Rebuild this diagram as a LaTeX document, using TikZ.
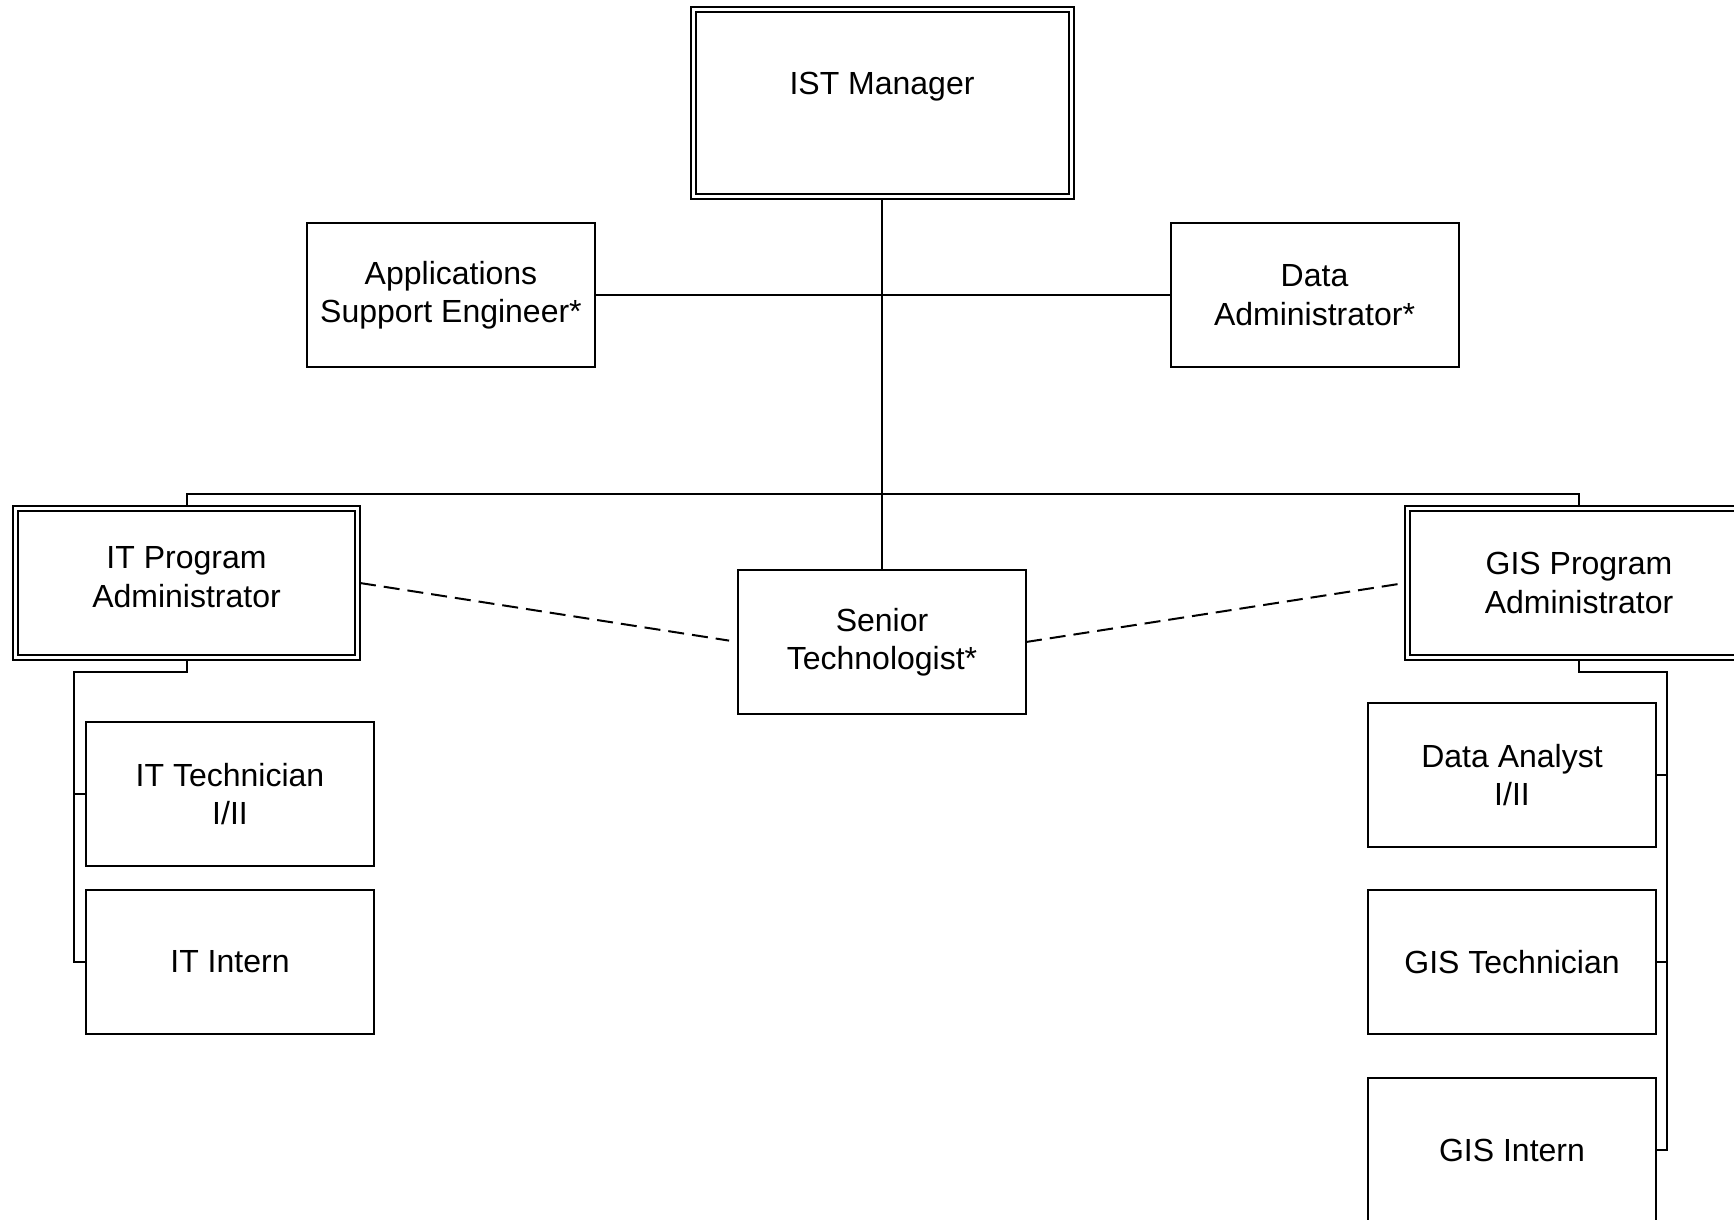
\documentclass[tikz,border=0pt]{standalone}
\usepackage{fontspec}
\setmainfont{Liberation Sans}
\begin{document}
\begin{tikzpicture}[x=1pt,y=-1pt,
  every node/.style={font=\fontsize{32}{38.5}\selectfont, align=center},
  box/.style={draw, line width=2pt, fill=white, minimum width=288pt, minimum height=144pt, inner sep=0pt, outer sep=0pt},
  dbox/.style={draw, line width=2pt, double, double distance=3pt, fill=white, inner sep=0pt, outer sep=2.5pt},
  conn/.style={line width=2pt},
  dconn/.style={line width=2pt, dash pattern=on 16pt off 8pt}
]
\useasboundingbox (0,0) rectangle (1734,1220);
\clip (0,0) rectangle (1734,1220);

% double-bordered boxes
\node[dbox, minimum width=378pt, minimum height=187pt, text depth=40pt] (ist) at (882,103) {IST Manager};
\node[dbox, minimum width=342pt, minimum height=149pt, text depth=12pt] (itp) at (186.5,583) {IT Program\\Administrator};
\node[dbox, minimum width=343pt, minimum height=149pt] (gisp) at (1579,583) {GIS Program\\Administrator};

% simple boxes
\node[box] (app) at (451,295) {Applications\\Support Engineer*};
\node[box] (dat) at (1314.5,295) {Data\\Administrator*};
\node[box] (sen) at (882,642) {Senior\\Technologist*};
\node[box] (ittech) at (230,794) {IT Technician\\I/II};
\node[box] (itint) at (230,962) {IT Intern};
\node[box] (gda) at (1512,775) {Data Analyst\\I/II};
\node[box] (gtech) at (1512,962) {GIS Technician};
\node[box] (gint) at (1512,1150) {GIS Intern};

% connectors
\coordinate (bus) at (0,494);
\coordinate (itspine) at (74,672);
\coordinate (gspine) at (1667,672);

\draw[conn] (ist.south) -- (sen.north);
\draw[conn] (app.east) -- (dat.west);
\draw[conn] (itp.north) -- (itp.north |- bus) -- (gisp.north |- bus) -- (gisp.north);

\draw[conn] (itp.south) |- (itspine) |- (itint.west);
\draw[conn] (itspine |- ittech.west) -- (ittech.west);

\draw[conn] (gisp.south) |- (gspine) |- (gint.east);
\draw[conn] (gspine |- gda.east) -- (gda.east);
\draw[conn] (gspine |- gtech.east) -- (gtech.east);

\draw[dconn, shorten >=9pt] (itp.east) -- (sen.west);
\draw[dconn, shorten >=7pt] (sen.east) -- (gisp.west);
\end{tikzpicture}
\end{document}
